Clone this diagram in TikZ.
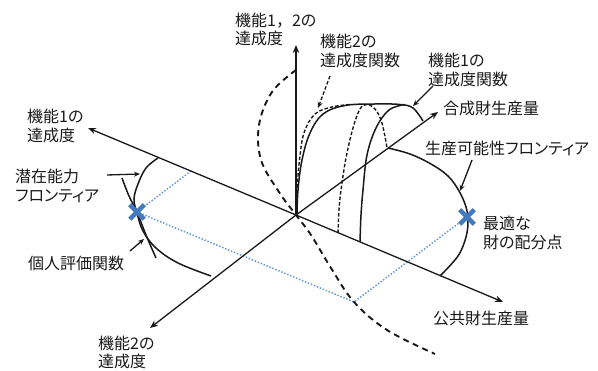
\documentclass[tikz,border=0pt]{standalone}
\usepackage{fontspec}
\setmainfont{Noto Sans CJK JP}[RawFeature=+palt]
\newfontfamily\plainjp{Noto Sans CJK JP}
\usetikzlibrary{arrows.meta,shapes.misc}
\definecolor{xblue}{RGB}{66,122,192}
\definecolor{dotblue}{RGB}{95,150,215}
\definecolor{ink}{RGB}{25,25,25}
\begin{document}
\begin{tikzpicture}[x=1pt,y=-1pt,
  lbl/.style={inner sep=0pt, anchor=west, align=left, font=\fontsize{16}{18.5}\selectfont, text=ink},
  axisline/.style={line width=1.3pt, draw=ink, -{Stealth[length=8pt,width=6.5pt]}},
  curve/.style={line width=1.5pt, draw=ink},
  bigdash/.style={line width=1.9pt, draw=ink, dash pattern=on 6pt off 4.5pt},
  finedash/.style={line width=1.4pt, draw=ink, dash pattern=on 3.5pt off 2pt},
  leader/.style={line width=1.3pt, draw=ink, -{Stealth[length=6pt,width=5pt]}},
  dleader/.style={leader, dash pattern=on 3.5pt off 2pt},
  bluedot/.style={line width=1.5pt, draw=dotblue, dash pattern=on 1.4pt off 1.8pt},
  xmark/.style={cross out, draw=xblue, line width=4.5pt, minimum size=10pt, inner sep=0pt},
]
\useasboundingbox (0,0) rectangle (598,371);

% axis points
\coordinate (O) at (296,215);
\coordinate (A1) at (88,128);
\coordinate (Apub) at (503,302);
\coordinate (A2) at (150,328);
\coordinate (Acomp) at (438,112);
\coordinate (Av) at (296,45);

% optimum points
\coordinate (X1) at (137,212);
\coordinate (X2) at (467,217);
\coordinate (B1) at (191,171);
\coordinate (B2) at (354,302);

% blue dotted guides
\draw[bluedot] (B1) -- (X1) -- (B2) -- (X2);

% axes
\draw[axisline] (O) -- (A1);
\draw[axisline] (O) -- (Apub);
\draw[axisline] (O) -- (A2);
\draw[axisline] (O) -- (Acomp);
\draw[axisline] (O) -- (Av);

% big dashed curve
\draw[bigdash] plot[smooth, tension=0.6] coordinates {(296,70) (272,92) (259,125) (261,160) (279,192) (296,215) (311,235) (331,268) (354,302) (387,330) (435,354)};

% function of 1 (solid)
\draw[curve] plot[smooth, tension=0.6] coordinates {(297,215) (298,190) (302,160) (310,133) (323,114) (345,105.5) (375,104) (400,104.5) (413,108) (423,121)};
\draw[curve] plot[smooth, tension=0.6] coordinates {(360,242) (361,215) (363,190) (367,155) (376,128) (389,110) (405,104.5)};

% function of 2 (fine dashed)
\draw[finedash] plot[smooth, tension=0.6] coordinates {(296,215) (297,190) (299.5,160) (304,133) (315,114) (332,107) (350,104.5)};
\draw[finedash] plot[smooth, tension=0.6] coordinates {(338,233) (339,210) (341,190) (346,158) (353,128) (360,109) (367,104.5) (375,109) (381,120) (384.5,134) (387,148)};

% production possibility frontier
\draw[curve] plot[smooth, tension=0.6] coordinates {(388,148) (410,154) (431,164) (448,176) (459,191) (466,207) (468,221) (466,237) (458,256) (440,276)};

% capability frontier
\draw[curve] plot[smooth, tension=0.6] coordinates {(158,158) (146,168) (138,184) (134,199) (137,213) (143,231) (156,248) (178,263) (211,276)};

% individual evaluation function
\draw[curve] plot[smooth, tension=0.6] coordinates {(122,178) (129,196) (137,212) (146,235) (156,258)};

% markers
\node[xmark] (M1) at (X1) {};
\node[xmark] (M2) at (X2) {};

% labels
\node[lbl] (L12) at (235,29.5) {機能1{\plainjp ，}2の\\達成度};
\node[lbl] (Lf2) at (320,51) {機能2の\\達成度関数};
\node[lbl] (Lf1) at (428,70) {機能1の\\達成度関数};
\node[lbl] (Lcomp) at (443,108) {合成財生産量};
\node[lbl] (Lppf) at (425,148) {生産可能性フロンティア};
\node[lbl] (La1) at (27,126) {機能1の\\達成度};
\node[lbl] (Lcap) at (15,186) {潜在能力\\フロンティア};
\node[lbl] (Leval) at (28,263) {個人評価関数};
\node[lbl] (La2) at (98,352.5) {機能2の\\達成度};
\node[lbl] (Lopt) at (483,233) {最適な\\財の配分点};
\node[lbl] (Lpub) at (433,318) {公共財生産量};

% leader arrows
\coordinate (c1s) at (107,175); \coordinate (c1e) at (140,174);
\draw[leader] (c1s) -- (c1e);
\coordinate (c2s) at (130,251); \coordinate (c2e) at (144,239);
\draw[leader] (c2s) -- (c2e);
\coordinate (c3s) at (472,160); \coordinate (c3e) at (460,191);
\draw[leader] (c3s) -- (c3e);
\coordinate (c4s) at (433,86); \coordinate (c4e) at (413,106);
\draw[leader] (c4s) -- (c4e);
\coordinate (c5s) at (330,76); \coordinate (c5e) at (318,108);
\draw[dleader] (c5s) -- (c5e);
\end{tikzpicture}
\end{document}
